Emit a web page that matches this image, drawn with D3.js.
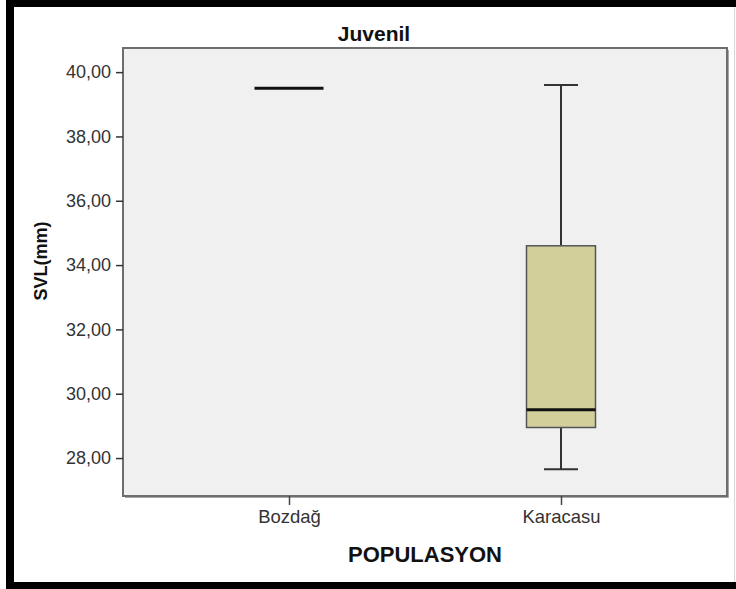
<!DOCTYPE html>
<html>
<head>
<meta charset="utf-8">
<script src="https://cdn.jsdelivr.net/npm/d3@7"></script>
<style>
  html, body { margin: 0; padding: 0; background: #fff; }
  svg { display: block; }
</style>
</head>
<body>
<script>
// Juvenile snout-vent length (mm) by population
const categories = ["Bozdağ", "Karacasu"];
const whiskerLow  = [39.5, 27.65];
const quartile1   = [39.5, 28.95];
const medians     = [39.5, 29.5];
const quartile3   = [39.5, 34.6];
const whiskerHigh = [39.5, 39.6];
const yTickValues = [28, 30, 32, 34, 36, 38, 40];

const W = 736, H = 589;
const plot = { left: 123, top: 48, right: 727, bottom: 496 };
const FONT = "Liberation Sans, Arial, sans-serif";

const svg = d3.select("body").append("svg")
  .attr("width", W).attr("height", H);

// outer frame
svg.append("rect").attr("x", 0).attr("y", 0).attr("width", W).attr("height", H).attr("fill", "#fff");
svg.append("rect").attr("x", 6).attr("y", 0).attr("width", W - 6).attr("height", 7).attr("fill", "#000");
svg.append("rect").attr("x", 6).attr("y", 0).attr("width", 8).attr("height", H).attr("fill", "#000");
svg.append("rect").attr("x", 6).attr("y", 582).attr("width", W - 6).attr("height", 7).attr("fill", "#000");
svg.append("line").attr("x1", 734.5).attr("x2", 734.5).attr("y1", 7).attr("y2", 582)
  .attr("stroke", "#d8d8d8").attr("stroke-width", 1);

const y = d3.scaleLinear().domain([26.82, 40.75]).range([plot.bottom, plot.top]);
// categories sit symmetrically inside the plot frame
const inset = 166;
const x = d3.scalePoint().domain(categories).range([plot.left + inset, plot.right - inset]);

const boxW = 69, capW = 34;

// plot background
svg.append("rect")
  .attr("x", plot.left).attr("y", plot.top)
  .attr("width", plot.right - plot.left).attr("height", plot.bottom - plot.top)
  .attr("fill", "#f0f0f0")
  .attr("stroke", "#6e6e6e").attr("stroke-width", 2);
svg.append("path")
  .attr("d", `M${plot.left + 2},${plot.bottom + 1.5}H${plot.right + 1.5}V${plot.top + 2}`)
  .attr("fill", "none").attr("stroke", "#a8a8a8").attr("stroke-width", 1);

const fmt = d => d3.format(".2f")(d).replace(".", ",");

// y axis
const yAxis = svg.append("g")
  .attr("transform", `translate(${plot.left},0)`)
  .call(d3.axisLeft(y).tickValues(yTickValues).tickFormat(fmt).tickSize(7).tickPadding(5));
yAxis.select(".domain").remove();
yAxis.selectAll(".tick line").attr("stroke", "#333").attr("stroke-width", 1.5);
yAxis.selectAll(".tick text")
  .attr("font-family", FONT)
  .attr("font-size", 18).attr("fill", "#333");

// x axis
const xAxis = svg.append("g")
  .attr("transform", `translate(0,${plot.bottom})`)
  .call(d3.axisBottom(x).tickSize(9).tickPadding(5));
xAxis.select(".domain").remove();
xAxis.selectAll(".tick line").attr("stroke", "#444").attr("stroke-width", 1.5);
xAxis.selectAll(".tick text")
  .attr("font-family", FONT)
  .attr("font-size", 18.5).attr("fill", "#333");

// boxes
const rows = categories.map((c, i) => ({
  c, lo: whiskerLow[i], q1: quartile1[i], med: medians[i], q3: quartile3[i], hi: whiskerHigh[i]
}));

const g = svg.append("g");
rows.forEach(r => {
  const cx = x(r.c);
  if (r.hi > r.lo) {
    g.append("line").attr("x1", cx).attr("x2", cx).attr("y1", y(r.hi)).attr("y2", y(r.q3))
      .attr("stroke", "#333").attr("stroke-width", 2);
    g.append("line").attr("x1", cx).attr("x2", cx).attr("y1", y(r.q1)).attr("y2", y(r.lo))
      .attr("stroke", "#333").attr("stroke-width", 2);
    [r.hi, r.lo].forEach(v => {
      g.append("line").attr("x1", cx - capW / 2).attr("x2", cx + capW / 2)
        .attr("y1", y(v)).attr("y2", y(v))
        .attr("stroke", "#333").attr("stroke-width", 2);
    });
  }
  if (r.q3 > r.q1) {
    g.append("rect")
      .attr("x", cx - boxW / 2).attr("y", y(r.q3))
      .attr("width", boxW).attr("height", y(r.q1) - y(r.q3))
      .attr("fill", "#d3cf9b").attr("stroke", "#555").attr("stroke-width", 1.5);
  }
  g.append("line").attr("x1", cx - boxW / 2).attr("x2", cx + boxW / 2)
    .attr("y1", y(r.med)).attr("y2", y(r.med))
    .attr("stroke", "#111").attr("stroke-width", 3);
});

// titles
svg.append("text").attr("x", 374).attr("y", 41).attr("text-anchor", "middle")
  .attr("font-family", FONT)
  .attr("font-size", 21).attr("font-weight", "bold").attr("fill", "#111")
  .text("Juvenil");
svg.append("text").attr("x", (plot.left + plot.right) / 2).attr("y", 562).attr("text-anchor", "middle")
  .attr("font-family", FONT)
  .attr("font-size", 22).attr("font-weight", "bold").attr("fill", "#111")
  .text("POPULASYON");
svg.append("text")
  .attr("transform", "translate(47,261) rotate(-90)")
  .attr("text-anchor", "middle")
  .attr("font-family", FONT)
  .attr("font-size", 18).attr("font-weight", "bold").attr("fill", "#111")
  .text("SVL(mm)");
</script>
</body>
</html>
